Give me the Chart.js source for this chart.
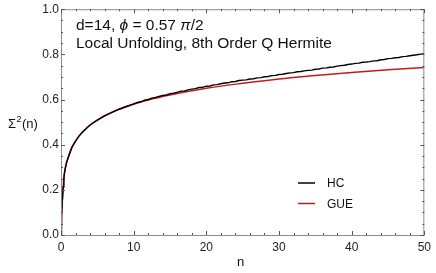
<!DOCTYPE html>
<html>
<head>
<meta charset="utf-8">
<script src="https://cdn.jsdelivr.net/npm/chart.js@4"></script>
<style>
  html, body { margin: 0; padding: 0; background: #fff; }
  #wrap { width: 436px; height: 273px; }
</style>
</head>
<body>
<div id="wrap"><canvas id="chartVariance" width="436" height="273"></canvas></div>
<script>
// values
const nGUE = [0, 0.05, 0.1, 0.2, 0.3, 0.4, 0.5, 0.7, 1, 1.5, 2, 2.5, 3, 4, 5, 6, 7, 8, 10, 12, 15, 20, 25, 30, 35, 40, 45, 50];
const sigmaGUE = [0, 0.047, 0.092, 0.161, 0.214, 0.253, 0.280, 0.313, 0.344, 0.388, 0.416, 0.439, 0.457, 0.487, 0.509, 0.528, 0.543, 0.557, 0.579, 0.598, 0.620, 0.650, 0.672, 0.691, 0.706, 0.720, 0.732, 0.742];

const nHC = [0, 0.05, 0.1, 0.2, 0.3, 0.4, 0.5, 0.7, 1, 1.5, 2, 2.5, 3, 4, 5, 6, 7, 8, 9, 9.5,
  10, 10.5, 11, 11.5, 12, 12.5, 13, 13.5, 14, 14.5, 15, 15.5, 16, 16.5, 17, 17.5, 18, 18.5, 19, 19.5,
  20, 20.5, 21, 21.5, 22, 22.5, 23, 23.5, 24, 24.5, 25, 25.5, 26, 26.5, 27, 27.5, 28, 28.5, 29, 29.5,
  30, 30.5, 31, 31.5, 32, 32.5, 33, 33.5, 34, 34.5, 35, 35.5, 36, 36.5, 37, 37.5, 38, 38.5, 39, 39.5,
  40, 40.5, 41, 41.5, 42, 42.5, 43, 43.5, 44, 44.5, 45, 45.5, 46, 46.5, 47, 47.5, 48, 48.5, 49, 49.5, 50];
const sigmaHC = [0, 0.047, 0.092, 0.161, 0.214, 0.253, 0.280, 0.313, 0.344, 0.388, 0.416, 0.439, 0.457, 0.487, 0.509, 0.528, 0.543, 0.557, 0.569, 0.575,
  0.581, 0.587, 0.590, 0.597, 0.600, 0.606, 0.609, 0.614, 0.618, 0.620, 0.626, 0.628, 0.632, 0.637, 0.638, 0.643, 0.646, 0.648, 0.653, 0.654,
  0.659, 0.660, 0.665, 0.666, 0.670, 0.673, 0.674, 0.679, 0.680, 0.684, 0.686, 0.687, 0.691, 0.692, 0.696, 0.697, 0.701, 0.702, 0.706, 0.707,
  0.711, 0.712, 0.715, 0.718, 0.719, 0.723, 0.724, 0.727, 0.729, 0.730, 0.734, 0.735, 0.739, 0.740, 0.743, 0.744, 0.748, 0.750, 0.752, 0.755,
  0.757, 0.760, 0.761, 0.765, 0.766, 0.768, 0.771, 0.772, 0.776, 0.777, 0.781, 0.782, 0.785, 0.786, 0.790, 0.791, 0.794, 0.796, 0.798, 0.801, 0.803];

const xTicks = [0, 10, 20, 30, 40, 50];
const yTicks = [0.0, 0.2, 0.4, 0.6, 0.8, 1.0];
const seriesNames = ['HC', 'GUE'];
const seriesColors = ['#000000', '#c41c1c'];

const FONT = "'Liberation Sans', Arial, sans-serif";
const FRAME = '#8c8c8c';

// frame with inside ticks, annotations, custom legend
const framePlugin = {
  id: 'frame',
  afterDraw(chart) {
    const { ctx, chartArea: a, scales } = chart;
    const sx = scales.x, sy = scales.y;
    ctx.save();
    ctx.strokeStyle = FRAME;
    ctx.lineWidth = 1;
    ctx.strokeRect(a.left + 0.5, a.top + 0.5, a.right - a.left - 1, a.bottom - a.top);

    ctx.strokeStyle = '#555';
    ctx.beginPath();
    for (let v = 0; v <= 50; v += 2) {
      const px = Math.round(sx.getPixelForValue(v)) + 0.5;
      const len = v % 10 === 0 ? 4 : 2;
      ctx.moveTo(px, a.bottom); ctx.lineTo(px, a.bottom - len);
      ctx.moveTo(px, a.top); ctx.lineTo(px, a.top + len);
    }
    for (let i = 0; i <= 20; i++) {
      const v = i * 0.05;
      const py = Math.round(sy.getPixelForValue(v)) + 0.5;
      const len = i % 4 === 0 ? 4 : 2;
      ctx.moveTo(a.left, py); ctx.lineTo(a.left + len, py);
      ctx.moveTo(a.right, py); ctx.lineTo(a.right - len, py);
    }
    ctx.stroke();

    // annotation text
    ctx.fillStyle = '#111';
    ctx.textBaseline = 'alphabetic';
    ctx.textAlign = 'left';
    let x = 76;
    const parts = [['d=14, ', 'normal'], ['\u03d5', 'italic'], [' = 0.57 ', 'normal'], ['\u03c0', 'italic'], ['/2', 'normal']];
    parts.forEach(([t, st]) => {
      ctx.font = st + ' 15.5px ' + FONT;
      ctx.fillText(t, x, 30);
      x += ctx.measureText(t).width;
    });
    ctx.font = '15.5px ' + FONT;
    ctx.fillText('Local Unfolding, 8th Order Q Hermite', 76, 48);

    // y label Σ²(n)
    ctx.font = '13px ' + FONT;
    ctx.fillText('\u03a3', 8, 128);
    let lx = 8 + ctx.measureText('\u03a3').width;
    ctx.font = '9px ' + FONT;
    ctx.fillText('2', lx + 0.5, 122);
    lx += ctx.measureText('2').width + 1;
    ctx.font = '13px ' + FONT;
    ctx.fillText('(n)', lx, 128);

    // x label
    ctx.textAlign = 'center';
    ctx.fillText('n', (a.left + a.right) / 2 - 2, 266);

    // legend
    ctx.textAlign = 'left';
    ctx.textBaseline = 'middle';
    ctx.font = '12px ' + FONT;
    seriesNames.forEach((name, i) => {
      const y = 183 + i * 20.5;
      ctx.strokeStyle = seriesColors[i];
      ctx.lineWidth = 1.5;
      ctx.beginPath();
      ctx.moveTo(298, y); ctx.lineTo(315, y);
      ctx.stroke();
      ctx.fillStyle = '#111';
      ctx.fillText(name, 327, y + 1);
    });
    ctx.restore();
  }
};

new Chart(document.getElementById('chartVariance').getContext('2d'), {
  type: 'line',
  data: {
    datasets: [
      {
        label: seriesNames[0],
        data: nHC.map((n, i) => ({ x: n, y: sigmaHC[i] })),
        borderColor: seriesColors[0],
        borderWidth: 1.4,
        pointRadius: 0,
        tension: 0
      },
      {
        label: seriesNames[1],
        data: nGUE.map((n, i) => ({ x: n, y: sigmaGUE[i] })),
        borderColor: seriesColors[1],
        borderWidth: 1.5,
        pointRadius: 0,
        cubicInterpolationMode: 'monotone'
      }
    ]
  },
  options: {
    responsive: false,
    animation: false,
    layout: { padding: { top: 7, right: 8, left: 0, bottom: 0 } },
    plugins: { legend: { display: false }, tooltip: { enabled: false } },
    scales: {
      x: {
        type: 'linear', min: 0, max: 50,
        afterFit: (s) => { s.height = 38; },
        afterBuildTicks: (s) => { s.ticks = xTicks.map(v => ({ value: v })); },
        grid: { display: false, drawTicks: false },
        border: { display: false },
        ticks: { padding: 5, color: '#222', font: { family: FONT, size: 12 }, maxRotation: 0 }
      },
      y: {
        type: 'linear', min: 0, max: 1,
        afterFit: (s) => { s.width = 61; },
        afterBuildTicks: (s) => { s.ticks = yTicks.map(v => ({ value: v })); },
        grid: { display: false, drawTicks: false },
        border: { display: false },
        ticks: { padding: 2, color: '#222', font: { family: FONT, size: 12 }, callback: v => v.toFixed(1) }
      }
    }
  },
  plugins: [framePlugin]
});
</script>
</body>
</html>
